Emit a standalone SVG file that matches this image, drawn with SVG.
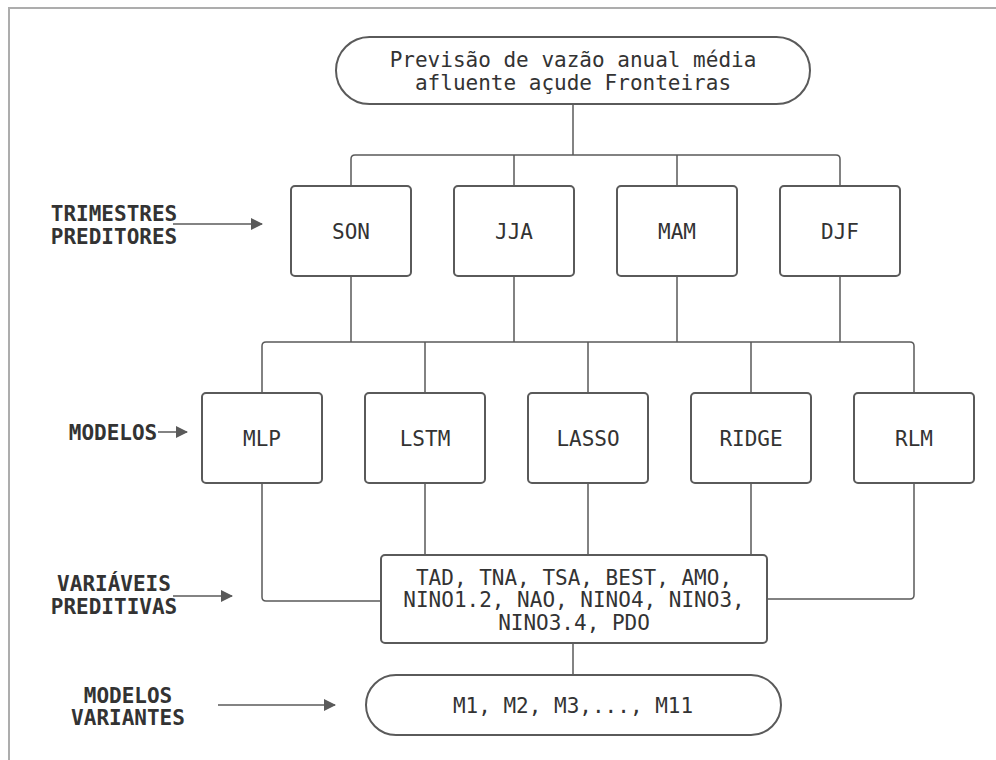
<svg xmlns="http://www.w3.org/2000/svg" width="996" height="760" viewBox="0 0 996 760">
  <defs>
    <style>
      .frame { fill: none; stroke: #adadad; stroke-width: 2; }
      .box { fill: #ffffff; stroke: #5a5a5a; stroke-width: 2; }
      .wire { fill: none; stroke: #5a5a5a; stroke-width: 1.5; }
      .node-text { font-family: "DejaVu Sans Mono", "Liberation Mono", monospace; font-size: 21px; fill: #333333; text-anchor: middle; }
      .label { font-family: "DejaVu Sans Mono", "Liberation Mono", monospace; font-size: 21px; font-weight: bold; fill: #333333; text-anchor: middle; }
    </style>
    <marker id="arrow" viewBox="0 0 12 12" refX="11" refY="6" markerWidth="12" markerHeight="12" markerUnits="userSpaceOnUse" orient="auto">
      <path d="M0,0 L12,6 L0,12 Z" fill="#5a5a5a"/>
    </marker>
  </defs>

  <rect width="996" height="760" fill="#ffffff"/>
  <!-- page frame, open to the right and bottom -->
  <path class="frame" d="M9,760 V8 H996"/>

  <!-- connectors -->
  <g id="connectors">
    <path class="wire" d="M573,104 V155"/>
    <path class="wire" d="M351,186 V159 Q351,155 355,155 H836 Q840,155 840,159 V186"/>
    <path class="wire" d="M514,155 V186 M677,155 V186"/>

    <path class="wire" d="M351,276 V342 M514,276 V342 M677,276 V342 M840,276 V342"/>
    <path class="wire" d="M262,393 V346 Q262,342 266,342 H910 Q914,342 914,346 V393"/>
    <path class="wire" d="M425,342 V393 M588,342 V393 M751,342 V393"/>

    <path class="wire" d="M262,483 V597 Q262,601 266,601 H381"/>
    <path class="wire" d="M425,483 V555 M588,483 V555 M751,483 V555"/>
    <path class="wire" d="M914,483 V595 Q914,599 910,599 H767"/>
    <path class="wire" d="M573,643 V675"/>

    <!-- row label arrows -->
    <path class="wire" d="M173,224 H262" marker-end="url(#arrow)"/>
    <path class="wire" d="M158,432 H187" marker-end="url(#arrow)"/>
    <path class="wire" d="M173,596 H232" marker-end="url(#arrow)"/>
    <path class="wire" d="M218,705 H335" marker-end="url(#arrow)"/>
  </g>

  <!-- top terminal -->
  <g id="node-objetivo">
    <rect class="box" x="336" y="37" width="474" height="67" rx="33.5" ry="33.5"/>
    <text class="node-text" x="573" y="67">Previsão de vazão anual média</text>
    <text class="node-text" x="573" y="90">afluente açude Fronteiras</text>
  </g>

  <!-- predictor quarters -->
  <g id="node-son">
    <rect class="box" x="291" y="186" width="120" height="90" rx="4"/>
    <text class="node-text" x="351" y="239">SON</text>
  </g>
  <g id="node-jja">
    <rect class="box" x="454" y="186" width="120" height="90" rx="4"/>
    <text class="node-text" x="514" y="239">JJA</text>
  </g>
  <g id="node-mam">
    <rect class="box" x="617" y="186" width="120" height="90" rx="4"/>
    <text class="node-text" x="677" y="239">MAM</text>
  </g>
  <g id="node-djf">
    <rect class="box" x="780" y="186" width="120" height="90" rx="4"/>
    <text class="node-text" x="840" y="239">DJF</text>
  </g>

  <!-- models -->
  <g id="node-mlp">
    <rect class="box" x="202" y="393" width="120" height="90" rx="4"/>
    <text class="node-text" x="262" y="446">MLP</text>
  </g>
  <g id="node-lstm">
    <rect class="box" x="365" y="393" width="120" height="90" rx="4"/>
    <text class="node-text" x="425" y="446">LSTM</text>
  </g>
  <g id="node-lasso">
    <rect class="box" x="528" y="393" width="120" height="90" rx="4"/>
    <text class="node-text" x="588" y="446">LASSO</text>
  </g>
  <g id="node-ridge">
    <rect class="box" x="691" y="393" width="120" height="90" rx="4"/>
    <text class="node-text" x="751" y="446">RIDGE</text>
  </g>
  <g id="node-rlm">
    <rect class="box" x="854" y="393" width="120" height="90" rx="4"/>
    <text class="node-text" x="914" y="446">RLM</text>
  </g>

  <!-- predictive variables -->
  <g id="node-variaveis">
    <rect class="box" x="381" y="555" width="386" height="88" rx="4"/>
    <text class="node-text" x="574" y="585">TAD, TNA, TSA, BEST, AMO,</text>
    <text class="node-text" x="574" y="607">NINO1.2, NAO, NINO4, NINO3,</text>
    <text class="node-text" x="574" y="630">NINO3.4, PDO</text>
  </g>

  <!-- model variants -->
  <g id="node-variantes">
    <rect class="box" x="366" y="675" width="415" height="60" rx="30" ry="30"/>
    <text class="node-text" x="573" y="713">M1, M2, M3,..., M11</text>
  </g>

  <!-- row labels -->
  <g id="label-trimestres">
    <text class="label" x="114" y="221">TRIMESTRES</text>
    <text class="label" x="114" y="244">PREDITORES</text>
  </g>
  <g id="label-modelos">
    <text class="label" x="113" y="440">MODELOS</text>
  </g>
  <g id="label-variaveis">
    <text class="label" x="114" y="591">VARIÁVEIS</text>
    <text class="label" x="114" y="614">PREDITIVAS</text>
  </g>
  <g id="label-variantes">
    <text class="label" x="128" y="703">MODELOS</text>
    <text class="label" x="128" y="725">VARIANTES</text>
  </g>
</svg>
